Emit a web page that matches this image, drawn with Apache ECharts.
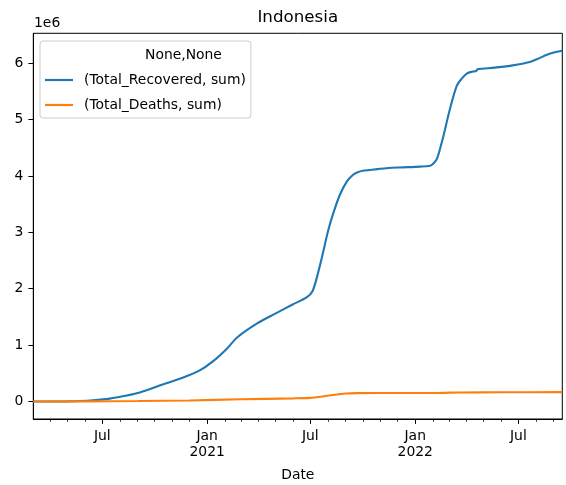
<!DOCTYPE html>
<html>
<head>
<meta charset="utf-8">
<script src="https://cdn.jsdelivr.net/npm/echarts@6/dist/echarts.min.js"></script>
<style>
html,body{margin:0;padding:0;background:#fff;}
#chart{width:566px;height:485px;}
</style>
</head>
<body>
<div id="chart"></div>
<script>
// ---- data (values in millions) ----
const recoveredDates = ['2020-03-02','2020-04-01','2020-05-01','2020-05-23','2020-06-15','2020-07-14','2020-08-10','2020-09-05','2020-10-15','2020-11-19','2020-12-19','2021-01-11','2021-02-05','2021-02-22','2021-03-29','2021-05-03','2021-05-31','2021-06-25','2021-07-05','2021-07-14','2021-07-23','2021-08-01','2021-08-10','2021-08-22','2021-09-03','2021-09-14','2021-09-21','2021-10-01','2021-10-26','2021-11-15','2021-12-05','2022-01-10','2022-01-27','2022-02-01','2022-02-08','2022-02-18','2022-03-03','2022-03-15','2022-03-24','2022-04-02','2022-04-12','2022-04-18','2022-04-20','2022-05-20','2022-06-21','2022-07-21','2022-08-05','2022-08-20','2022-09-01','2022-09-16'];
const recoveredValues = [0,0.0001,0.002,0.007,0.02,0.05,0.10,0.16,0.30,0.42,0.55,0.71,0.94,1.13,1.38,1.57,1.72,1.85,1.96,2.26,2.63,3.02,3.33,3.67,3.90,4.02,4.06,4.09,4.12,4.14,4.15,4.165,4.18,4.21,4.30,4.65,5.19,5.60,5.73,5.82,5.85,5.86,5.89,5.92,5.96,6.02,6.08,6.15,6.19,6.22];
const deathsDates = ['2020-03-02','2020-06-01','2020-09-01','2020-12-01','2021-03-01','2021-06-01','2021-07-01','2021-07-20','2021-08-10','2021-09-01','2021-09-20','2021-12-01','2022-02-15','2022-03-20','2022-06-01','2022-09-16'];
const deathsValues = [0,0.002,0.008,0.018,0.038,0.055,0.064,0.085,0.115,0.14,0.148,0.150,0.153,0.160,0.163,0.165];
const seriesNames = ['(Total_Recovered, sum)','(Total_Deaths, sum)'];
const legendTitle = 'None,None';
const chartTitle = 'Indonesia';
const xAxisTitle = 'Date';
const yScaleLabel = '1e6';
const yTicks = [0,1,2,3,4,5,6];
const xMajorTicks = ['2020-07-01','2021-01-01','2021-07-01','2022-01-01','2022-07-01'];
const xMinorTicks = ['2020-04-01','2020-05-01','2020-06-01','2020-08-01','2020-09-01','2020-10-01','2020-11-01','2020-12-01','2021-02-01','2021-03-01','2021-04-01','2021-05-01','2021-06-01','2021-08-01','2021-09-01','2021-10-01','2021-11-01','2021-12-01','2022-02-01','2022-03-01','2022-04-01','2022-05-01','2022-06-01','2022-08-01','2022-09-01'];
const xStart = '2020-03-02';
const xEnd = '2022-09-16';
const yMin = -0.311, yMax = 6.529;

function ts(s){const p=s.split('-').map(Number);return new Date(p[0],p[1]-1,p[2]).getTime();}

const FONT = 'DejaVu Sans';
const chart = echarts.init(document.getElementById('chart'), null, {renderer:'canvas'});
const gridL = 33.3, gridT = 33.3, gridR = 566 - 562.3, gridB = 485 - 419;

chart.setOption({
  animation:false,
  backgroundColor:'#fff',
  textStyle:{fontFamily:FONT},
  title:{
    text:chartTitle, left:297.8, textAlign:'center', top:9, padding:0,
    textStyle:{fontFamily:FONT,fontSize:16.7,fontWeight:'normal',color:'#000'}
  },
  grid:{left:gridL,top:gridT,right:gridR,bottom:gridB,show:true,borderColor:'#000',borderWidth:1,containLabel:false,outerBoundsMode:'none'},
  legend:{
    orient:'vertical', left:40, top:41,
    padding:[32,5,6,5], itemGap:11,
    itemWidth:28, itemHeight:2.2, icon:'rect',
    backgroundColor:'rgba(255,255,255,0.8)', borderColor:'#cccccc', borderWidth:1, borderRadius:3,
    textStyle:{fontFamily:FONT,fontSize:13.9,color:'#000',padding:[0,0,0,6]},
    data:seriesNames
  },
  graphic:[
    {type:'text',left:145,top:48,style:{text:legendTitle,font:'13.9px "DejaVu Sans"',fill:'#000',textAlign:'center'},z:100},
    {type:'text',left:34,top:16,style:{text:yScaleLabel,font:'13.9px "DejaVu Sans"',fill:'#000'}}
  ],
  xAxis:[{
    type:'value', min:ts(xStart), max:ts(xEnd), position:'bottom',
    axisLine:{show:true,onZero:false,lineStyle:{color:'#000',width:1}},
    axisTick:{show:true,length:4.9,lineStyle:{color:'#000',width:1},customValues:xMajorTicks.map(ts)},
    axisLabel:{
      customValues:xMajorTicks.map(ts), margin:9, fontFamily:FONT, fontSize:13.9, color:'#000', lineHeight:16.5,
      formatter:function(v){const d=new Date(v);return d.getMonth()===0?('Jan\n'+d.getFullYear()):'Jul';}
    },
    splitLine:{show:false},
    name:xAxisTitle, nameLocation:'middle', nameGap:49,
    nameTextStyle:{fontFamily:FONT,fontSize:13.9,color:'#000'}
  },{
    type:'value', min:ts(xStart), max:ts(xEnd), position:'bottom',
    axisLine:{show:false,onZero:false},
    axisTick:{show:true,length:2.8,lineStyle:{color:'#000',width:0.8},customValues:xMinorTicks.map(ts)},
    axisLabel:{show:false}, splitLine:{show:false}
  }],
  yAxis:{
    type:'value', min:yMin, max:yMax,
    axisLine:{show:true,onZero:false,lineStyle:{color:'#000',width:1}},
    axisTick:{show:true,length:4.9,lineStyle:{color:'#000',width:1},customValues:yTicks},
    axisLabel:{customValues:yTicks,margin:10,fontFamily:FONT,fontSize:13.9,color:'#000',formatter:function(v){return String(v);}},
    splitLine:{show:false}
  },
  series:[
    {name:seriesNames[0],type:'line',xAxisIndex:0,showSymbol:false,smooth:0.3,
     lineStyle:{color:'#1f77b4',width:2.1},itemStyle:{color:'#1f77b4'},
     data:recoveredDates.map((d,i)=>[ts(d),recoveredValues[i]])},
    {name:seriesNames[1],type:'line',xAxisIndex:0,showSymbol:false,smooth:0.3,
     lineStyle:{color:'#ff7f0e',width:2.1},itemStyle:{color:'#ff7f0e'},
     data:deathsDates.map((d,i)=>[ts(d),deathsValues[i]])}
  ]
});
</script>
</body>
</html>
